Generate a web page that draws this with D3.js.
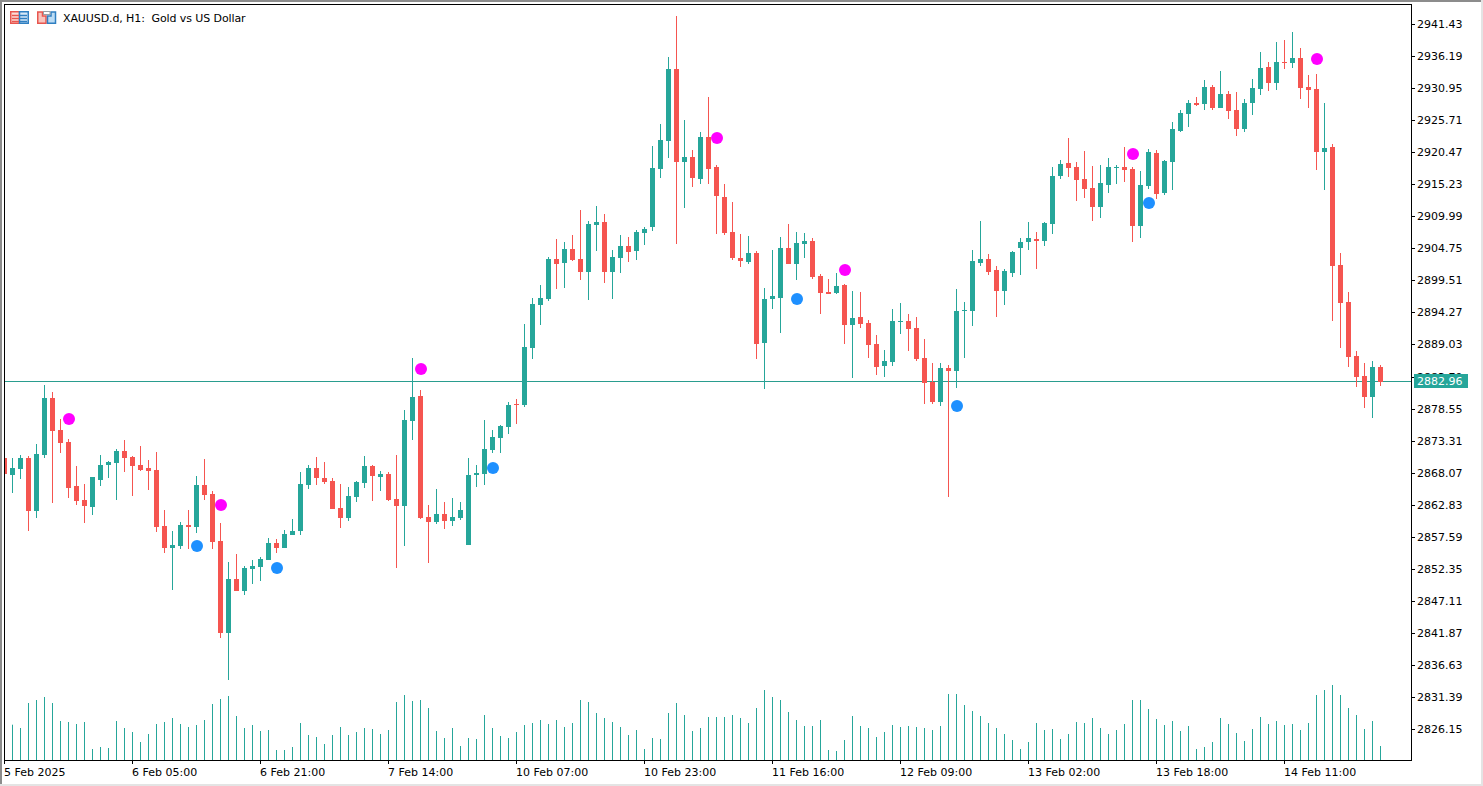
<!DOCTYPE html>
<html>
<head>
<meta charset="utf-8">
<title>XAUUSD.d, H1</title>
<script src="https://cdn.jsdelivr.net/npm/d3@7"></script>
<style>
  html, body { margin: 0; padding: 0; background: #fff; overflow: hidden; }
  svg { display: block; }
  text { font-family: "DejaVu Sans", sans-serif; font-size: 11px; fill: #000; }
  .axis path, .axis line { stroke: #000; shape-rendering: crispEdges; }
</style>
</head>
<body>
<div id="chart"></div>
<script>
const opens = [
  2870.46, 2867.68, 2868.66, 2870.46, 2861.79, 2870.95, 2880.28, 2875.03, 2873.07, 2865.88,
  2863.59, 2862.45, 2866.86, 2869.31, 2869.64, 2871.60, 2870.62, 2869.31, 2868.82, 2868.49,
  2859.34, 2855.74, 2856.07, 2859.51, 2859.18, 2866.04, 2864.57, 2856.89, 2841.84, 2850.67,
  2848.71, 2852.31, 2852.64, 2853.78, 2856.56, 2855.74, 2857.87, 2858.52, 2866.04, 2868.82,
  2867.18, 2866.69, 2862.28, 2860.65, 2864.08, 2866.37, 2869.15, 2867.35, 2867.84, 2863.76,
  2862.61, 2876.50, 2880.60, 2860.81, 2859.99, 2861.30, 2860.16, 2860.65, 2856.23, 2867.68,
  2867.84, 2871.76, 2873.73, 2875.52, 2879.29, 2879.12, 2888.45, 2895.48, 2896.46, 2903.00,
  2902.35, 2904.64, 2903.00, 2900.88, 2908.56, 2909.05, 2900.88, 2903.17, 2905.13, 2904.31,
  2907.26, 2908.24, 2917.72, 2922.30, 2934.07, 2918.86, 2919.68, 2916.08, 2922.95, 2918.04,
  2913.14, 2907.42, 2903.17, 2902.51, 2903.98, 2889.27, 2896.46, 2896.63, 2904.80, 2902.18,
  2905.45, 2905.94, 2900.22, 2897.60, 2897.44, 2898.75, 2892.21, 2893.52, 2892.54, 2889.11,
  2885.51, 2886.16, 2892.70, 2892.87, 2891.72, 2886.82, 2882.89, 2879.61, 2885.18, 2884.69,
  2894.50, 2894.50, 2902.35, 2903.00, 2901.20, 2897.77, 2900.71, 2904.80, 2905.78, 2906.27,
  2905.94, 2908.73, 2916.57, 2918.70, 2918.04, 2916.08, 2914.61, 2911.51, 2915.10, 2917.88,
  2918.04, 2917.72, 2908.40, 2914.94, 2920.33, 2913.79, 2918.86, 2923.93, 2926.71, 2928.51,
  2928.35, 2931.13, 2927.69, 2929.98, 2927.36, 2924.26, 2928.51, 2930.80, 2934.40, 2931.78,
  2935.21, 2935.05, 2935.87, 2931.13, 2930.80, 2920.49, 2921.31, 2902.02, 2895.97, 2887.15,
  2883.87, 2880.44, 2885.35
];
const highs = [
  2870.46, 2870.46, 2870.95, 2870.78, 2872.75, 2882.40, 2881.25, 2876.83, 2873.56, 2869.15,
  2866.20, 2867.35, 2870.95, 2869.97, 2871.93, 2873.40, 2870.78, 2872.42, 2870.13, 2871.44,
  2861.96, 2858.52, 2859.99, 2861.96, 2867.51, 2870.29, 2865.06, 2859.83, 2853.45, 2854.76,
  2852.80, 2853.78, 2854.27, 2857.38, 2857.21, 2858.69, 2860.48, 2868.17, 2869.31, 2870.62,
  2869.80, 2867.18, 2866.20, 2865.71, 2866.69, 2870.78, 2869.31, 2868.33, 2868.17, 2870.95,
  2878.30, 2886.82, 2881.58, 2862.77, 2865.39, 2863.26, 2863.92, 2863.26, 2870.46, 2869.31,
  2876.67, 2875.03, 2875.85, 2879.61, 2880.11, 2892.38, 2896.63, 2898.75, 2903.33, 2906.27,
  2905.78, 2906.93, 2911.01, 2909.22, 2911.67, 2910.36, 2904.47, 2906.93, 2906.60, 2907.75,
  2908.24, 2921.48, 2925.08, 2936.03, 2942.74, 2925.73, 2920.82, 2923.77, 2929.49, 2918.37,
  2915.26, 2912.32, 2907.09, 2906.76, 2904.31, 2898.26, 2904.47, 2906.60, 2908.73, 2907.42,
  2907.26, 2906.43, 2900.55, 2899.73, 2900.71, 2898.91, 2897.77, 2897.60, 2893.03, 2890.57,
  2888.12, 2894.82, 2895.81, 2894.01, 2893.52, 2889.92, 2886.00, 2886.00, 2885.67, 2898.10,
  2895.97, 2904.47, 2909.22, 2903.82, 2901.85, 2901.36, 2904.31, 2906.43, 2909.05, 2907.42,
  2909.05, 2918.04, 2919.19, 2922.79, 2918.86, 2920.66, 2918.21, 2918.37, 2919.52, 2918.37,
  2921.31, 2918.04, 2917.39, 2920.99, 2920.82, 2919.19, 2925.40, 2927.36, 2929.00, 2929.49,
  2932.27, 2931.45, 2933.74, 2930.47, 2930.31, 2929.16, 2932.43, 2936.85, 2935.21, 2938.48,
  2938.81, 2940.12, 2937.50, 2933.09, 2933.25, 2928.51, 2921.80, 2903.98, 2897.60, 2887.96,
  2886.00, 2886.33, 2885.67
];
const lows = [
  2867.84, 2864.73, 2867.02, 2858.52, 2860.65, 2870.46, 2863.10, 2871.27, 2863.92, 2862.77,
  2859.83, 2861.14, 2865.88, 2867.18, 2863.59, 2868.17, 2864.24, 2868.33, 2865.22, 2858.36,
  2854.92, 2848.87, 2855.58, 2855.58, 2858.20, 2863.59, 2855.58, 2841.02, 2834.16, 2848.71,
  2848.06, 2849.86, 2850.35, 2853.78, 2854.92, 2855.74, 2857.87, 2857.87, 2865.39, 2866.04,
  2866.20, 2862.12, 2859.01, 2860.16, 2863.26, 2865.55, 2863.43, 2865.06, 2863.43, 2852.47,
  2856.07, 2873.40, 2860.48, 2853.29, 2859.67, 2858.85, 2859.34, 2860.32, 2856.23, 2865.71,
  2866.04, 2871.27, 2871.27, 2874.38, 2876.02, 2878.80, 2886.65, 2892.21, 2896.13, 2898.10,
  2898.26, 2902.67, 2899.57, 2896.30, 2904.31, 2899.08, 2896.46, 2900.71, 2902.51, 2902.84,
  2905.29, 2907.58, 2916.25, 2919.52, 2905.45, 2911.34, 2914.77, 2915.26, 2915.26, 2907.09,
  2906.93, 2902.84, 2901.69, 2902.18, 2886.65, 2881.74, 2894.82, 2890.90, 2902.18, 2899.57,
  2903.17, 2899.73, 2894.01, 2897.28, 2897.28, 2889.11, 2883.55, 2891.72, 2886.82, 2884.03,
  2883.71, 2885.51, 2890.74, 2887.96, 2886.33, 2879.29, 2879.29, 2878.96, 2864.08, 2881.90,
  2886.82, 2892.05, 2901.85, 2900.39, 2893.52, 2895.48, 2900.06, 2900.39, 2904.47, 2901.36,
  2905.13, 2907.09, 2916.08, 2916.41, 2912.48, 2912.97, 2909.22, 2909.71, 2913.79, 2915.26,
  2915.59, 2905.78, 2906.43, 2914.45, 2912.81, 2913.46, 2914.28, 2923.77, 2924.58, 2928.02,
  2927.36, 2927.36, 2927.69, 2925.89, 2923.11, 2923.77, 2926.55, 2929.82, 2930.47, 2930.63,
  2934.07, 2934.23, 2929.16, 2927.69, 2917.55, 2914.28, 2892.87, 2888.45, 2885.35, 2882.07,
  2878.63, 2877.00, 2882.23
];
const closes = [
  2867.84, 2868.82, 2870.46, 2861.79, 2871.11, 2880.28, 2874.87, 2872.91, 2865.55, 2863.43,
  2862.61, 2867.35, 2869.31, 2869.80, 2871.60, 2870.46, 2869.15, 2868.49, 2868.33, 2859.18,
  2855.74, 2856.23, 2859.51, 2859.18, 2866.04, 2864.40, 2856.72, 2841.84, 2850.67, 2848.71,
  2852.47, 2852.80, 2853.94, 2856.56, 2855.74, 2858.03, 2858.52, 2866.20, 2868.82, 2867.18,
  2866.53, 2862.12, 2860.65, 2864.24, 2866.53, 2869.15, 2867.51, 2867.84, 2863.59, 2862.61,
  2876.67, 2880.44, 2860.65, 2859.99, 2861.30, 2860.16, 2860.81, 2861.96, 2867.68, 2868.00,
  2871.93, 2873.89, 2875.69, 2879.12, 2879.12, 2888.61, 2895.64, 2896.63, 2903.00, 2902.18,
  2904.64, 2902.84, 2900.88, 2908.73, 2909.05, 2900.88, 2903.33, 2905.13, 2904.15, 2907.42,
  2907.91, 2917.88, 2922.46, 2934.07, 2918.86, 2919.68, 2916.25, 2922.95, 2917.72, 2913.30,
  2907.26, 2903.17, 2902.67, 2903.98, 2889.11, 2896.46, 2896.95, 2904.80, 2902.18, 2905.62,
  2905.94, 2900.06, 2897.44, 2897.28, 2898.59, 2892.21, 2893.36, 2892.38, 2888.94, 2885.35,
  2886.33, 2892.87, 2892.87, 2891.56, 2886.65, 2882.72, 2879.61, 2885.18, 2884.69, 2894.50,
  2894.66, 2902.67, 2903.00, 2900.88, 2897.77, 2901.04, 2904.15, 2905.78, 2906.43, 2905.94,
  2908.89, 2916.57, 2918.53, 2917.88, 2915.92, 2914.45, 2911.51, 2915.43, 2918.04, 2918.04,
  2917.55, 2908.40, 2915.10, 2920.49, 2913.63, 2919.03, 2924.26, 2926.87, 2928.51, 2928.18,
  2931.13, 2927.69, 2929.98, 2927.20, 2924.26, 2928.51, 2930.96, 2934.23, 2931.78, 2935.21,
  2935.05, 2935.87, 2930.96, 2930.63, 2920.49, 2921.15, 2901.85, 2895.81, 2886.98, 2883.71,
  2880.44, 2885.35, 2882.96
];
const tickVolumes = [
  3000, 3530, 3200, 5700, 6000, 6300, 5700, 3900, 3800, 3600,
  3800, 1100, 1300, 1200, 3900, 3200, 2800, 1800, 2600, 3600,
  3800, 4200, 3600, 3300, 3500, 4000, 5600, 6100, 6400, 4400,
  3200, 3500, 2900, 3000, 1000, 1000, 1300, 3700, 2500, 2300,
  1600, 2500, 3300, 2500, 2800, 3200, 3100, 2600, 3000, 5800,
  6500, 5900, 6000, 5200, 2900, 2200, 3200, 1400, 2200, 2100,
  4500, 3200, 2400, 2200, 2800, 3500, 3700, 4000, 3600, 4000,
  3300, 3700, 6000, 5800, 4700, 4200, 3800, 3300, 2500, 3000,
  1100, 2200, 2100, 4700, 5700, 4500, 2900, 3200, 4300, 4300,
  4300, 4500, 4200, 3700, 5200, 7000, 6300, 6000, 4800, 4000,
  3400, 3400, 4000, 1000, 900, 2000, 4400, 3400, 3200, 2300,
  2800, 3500, 3300, 3400, 3300, 3200, 3000, 3400, 6600, 6600,
  5500, 4900, 4400, 3700, 3200, 2600, 2000, 1100, 1800, 3700,
  3000, 3100, 2100, 2600, 3800, 3700, 4200, 3200, 2600, 3000,
  3600, 6000, 6000, 5100, 4100, 3500, 3900, 2900, 3400, 1100,
  1300, 1800, 4200, 3600, 2700, 1900, 3100, 4300, 3600, 3900,
  3500, 3600, 3000, 3700, 6500, 7000, 7500, 6500, 5200, 4500,
  3100, 3900, 1400
];
const priceTicks = [
  2941.43, 2936.19, 2930.95, 2925.71, 2920.47, 2915.23, 2909.99, 2904.75, 2899.51, 2894.27,
  2889.03, 2883.79, 2878.55, 2873.31, 2868.07, 2862.83, 2857.59, 2852.35, 2847.11, 2841.87,
  2836.63, 2831.39, 2826.15
];
const timeTickBars = [0, 16, 32, 48, 64, 80, 96, 112, 128, 144, 160];
const timeTickLabels = [
  '5 Feb 2025', '6 Feb 05:00', '6 Feb 21:00', '7 Feb 14:00', '10 Feb 07:00', '10 Feb 23:00',
  '11 Feb 16:00', '12 Feb 09:00', '13 Feb 02:00', '13 Feb 18:00', '14 Feb 11:00'
];
const sellBars = [8, 27, 52, 89, 105, 141, 164];
const sellPrices = [2876.83, 2862.77, 2885.02, 2922.79, 2901.20, 2920.17, 2935.70];
const buyBars = [24, 34, 61, 99, 119, 143];
const buyPrices = [2856.07, 2852.47, 2868.82, 2896.46, 2878.96, 2912.16];
const lastPrice = 2882.96;

const UP = '#26a69a', DOWN = '#f55550';
const width = 1483, height = 786;
const plotLeft = 4, plotTop = 4, plotRight = 1411, plotBottom = 760;

const x = d3.scaleLinear().domain([0, 172]).range([4.5, 1380.5]);
const y = d3.scaleLinear().domain([2941.43, 2826.15]).range([24, 729]);
const yVol = d3.scaleLinear().domain([0, 8000]).range([760, 680]);
const py = v => Math.round(y(v));

const svg = d3.select('#chart').append('svg')
  .attr('width', width)
  .attr('height', height);

svg.append('rect').attr('width', width).attr('height', height).attr('fill', '#fff');

// window chrome around the chart
svg.append('rect').attr('x', 0).attr('y', 0).attr('width', width).attr('height', 2).attr('fill', '#8c8c8c');
svg.append('rect').attr('x', 0).attr('y', 0).attr('width', 2).attr('height', height).attr('fill', '#8c8c8c');
svg.append('rect').attr('x', 0).attr('y', 784).attr('width', width).attr('height', 2).attr('fill', '#e4e4e4');
svg.append('rect').attr('x', 1481).attr('y', 0).attr('width', 2).attr('height', height).attr('fill', '#e4e4e4');

svg.append('defs').append('clipPath').attr('id', 'plot')
  .append('rect').attr('x', plotLeft).attr('y', plotTop).attr('width', plotRight - plotLeft).attr('height', plotBottom - plotTop);

const plot = svg.append('g').attr('clip-path', 'url(#plot)');
const bars = d3.range(opens.length);

// tick volume
plot.append('g').selectAll('line')
  .data(tickVolumes)
  .join('line')
  .attr('x1', (d, i) => x(i))
  .attr('x2', (d, i) => x(i))
  .attr('y1', yVol(0))
  .attr('y2', d => yVol(d))
  .attr('stroke', UP)
  .attr('stroke-width', 1);

// last price line
const lastY = Math.floor(y(lastPrice));
plot.append('rect')
  .attr('x', plotLeft).attr('y', lastY).attr('width', plotRight - plotLeft).attr('height', 1)
  .attr('fill', '#2a9d8f');

// candles
const candle = plot.append('g').selectAll('g')
  .data(bars)
  .join('g')
  .attr('fill', i => closes[i] >= opens[i] ? UP : DOWN);

candle.append('rect')
  .attr('x', i => x(i) - 0.5)
  .attr('width', 1)
  .attr('y', i => py(highs[i]))
  .attr('height', i => py(lows[i]) - py(highs[i]));

candle.append('rect')
  .attr('x', i => x(i) - 2.5)
  .attr('width', 5)
  .attr('y', i => py(Math.max(opens[i], closes[i])))
  .attr('height', i => Math.max(1, py(Math.min(opens[i], closes[i])) - py(Math.max(opens[i], closes[i]))));

// signal dots
plot.append('g').selectAll('circle')
  .data(sellBars)
  .join('circle')
  .attr('cx', d => x(d) + 0.5)
  .attr('cy', (d, i) => y(sellPrices[i]))
  .attr('r', 6)
  .attr('fill', '#ff00ff');

plot.append('g').selectAll('circle')
  .data(buyBars)
  .join('circle')
  .attr('cx', d => x(d) + 0.5)
  .attr('cy', (d, i) => y(buyPrices[i]))
  .attr('r', 6)
  .attr('fill', '#1e90ff');

// frame
svg.append('path')
  .attr('d', d3.line()([[plotLeft + 0.5, plotBottom + 0.5], [plotLeft + 0.5, plotTop + 0.5], [plotRight + 0.5, plotTop + 0.5]]))
  .attr('fill', 'none')
  .attr('stroke', '#000')
  .attr('shape-rendering', 'crispEdges');

// price axis
const yAxis = svg.append('g')
  .attr('class', 'axis')
  .attr('transform', `translate(${plotRight},0)`)
  .call(d3.axisRight(y).tickValues(priceTicks).tickFormat(d3.format('.2f')).tickSize(4).tickPadding(2).offset(0.5));
yAxis.select('.domain').attr('d', `M0.5,${plotTop}V${plotBottom + 1}`);
yAxis.selectAll('.tick').attr('transform', d => `translate(0,${py(d)})`);
yAxis.selectAll('.tick line').attr('y1', 0.5).attr('y2', 0.5);
yAxis.attr('font-family', null).attr('font-size', null);

// time axis
const xAxis = svg.append('g')
  .attr('class', 'axis')
  .attr('transform', `translate(0,${plotBottom})`)
  .call(d3.axisBottom(x).tickValues(timeTickBars).tickFormat((d, i) => timeTickLabels[i]).tickSize(4).tickPadding(4).offset(0));
xAxis.select('.domain').attr('d', `M${plotLeft},0.5H${plotRight + 1}`);
xAxis.selectAll('text').attr('text-anchor', 'start').attr('dx', -0.5);
xAxis.attr('font-family', null).attr('font-size', null);

// current price tag
const tag = svg.append('g');
tag.append('rect')
  .attr('x', 1414).attr('y', lastY - 7).attr('width', 54).attr('height', 14)
  .attr('fill', UP);
tag.append('text')
  .attr('x', 1417).attr('y', lastY).attr('dy', '0.36em')
  .style('fill', '#fff')
  .text(d3.format('.2f')(lastPrice));

// header: two small toolbar icons and the symbol title
const ICON_RED = '#e8564f', ICON_BLUE = '#2f7fc1';
const icons = svg.append('g').attr('stroke-width', 1.5);
icons.append('path').attr('d', 'M19.5,11.75H10.75V23.25H19.5Z').attr('fill', '#fcdcd8').attr('stroke', ICON_RED);
icons.append('path').attr('d', 'M19.5,11.75H28.25V23.25H19.5Z').attr('fill', '#d8e9f7').attr('stroke', ICON_BLUE);
[15, 18, 21].forEach(v => {
  icons.append('line').attr('x1', 12).attr('x2', 19).attr('y1', v + 0.5).attr('y2', v + 0.5).attr('stroke', ICON_RED);
  icons.append('line').attr('x1', 20).attr('x2', 27).attr('y1', v + 0.5).attr('y2', v + 0.5).attr('stroke', ICON_BLUE);
});
icons.append('path').attr('d', 'M37.75,23.25V12H42.5V16H46V23.25Z').attr('fill', '#f9c4be').attr('stroke', ICON_RED);
icons.append('path').attr('d', 'M47.5,23.25V16H51V12H55.5V23.25Z').attr('fill', '#bcdcf4').attr('stroke', ICON_BLUE);
icons.append('rect').attr('x', 43.5).attr('y', 11.5).attr('width', 6.5).attr('height', 3).attr('fill', '#fff').attr('stroke', '#9aa0a6').attr('stroke-width', 1);

svg.append('text')
  .attr('x', 63).attr('y', 22)
  .style('white-space', 'pre')
  .style('letter-spacing', '-0.1px')
  .text('XAUUSD.d, H1:  Gold vs US Dollar');
</script>
</body>
</html>
